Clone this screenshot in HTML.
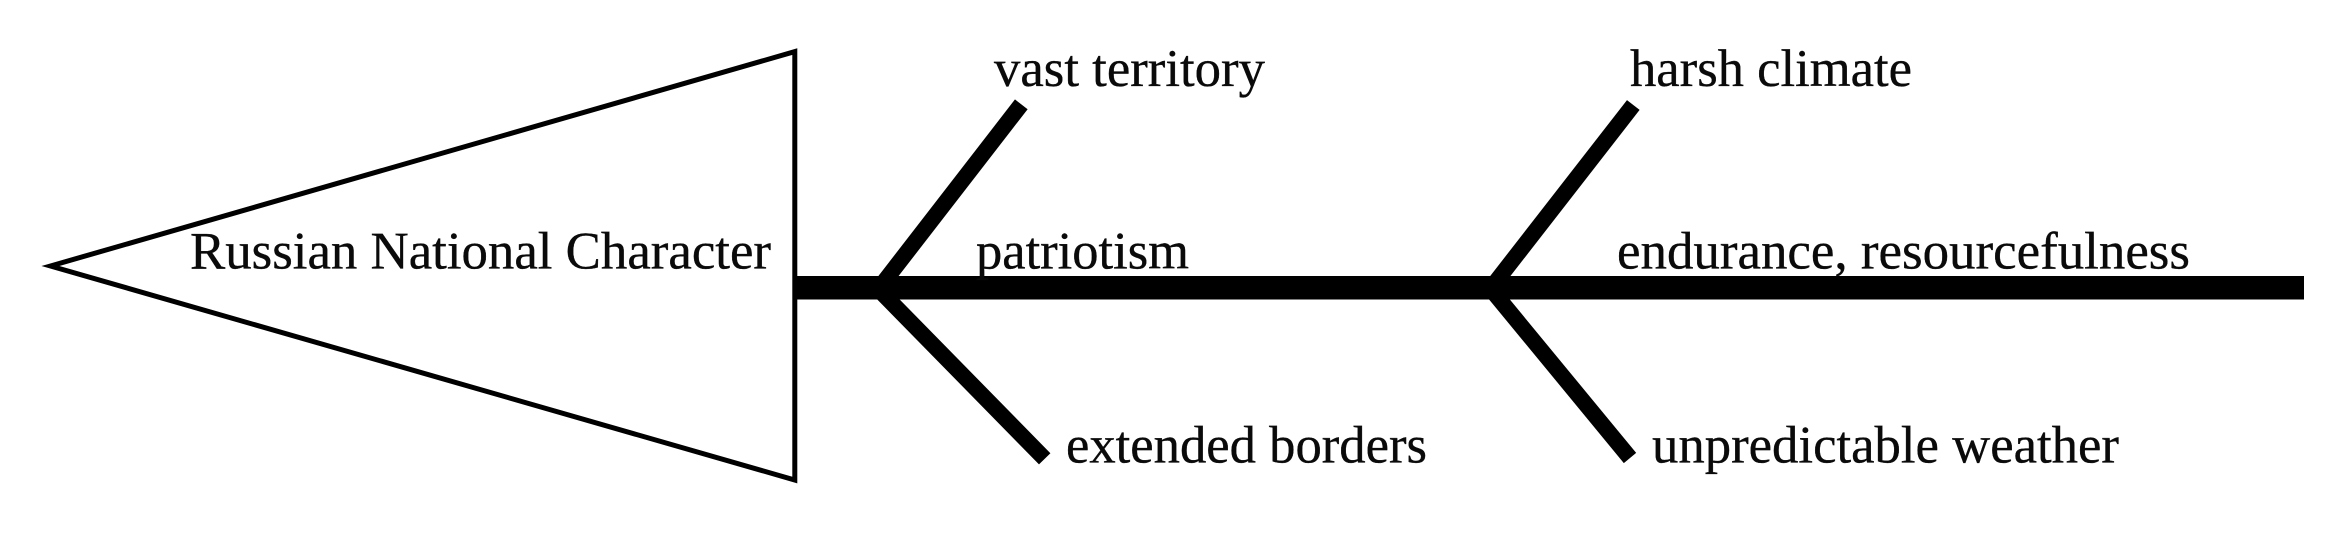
<!DOCTYPE html>
<html lang="en">
<head>
<meta charset="utf-8">
<title>Russian National Character</title>
<style>
html,body{margin:0;padding:0;background:#fff;width:2329px;height:544px;overflow:hidden}
svg{display:block}
text{font-family:"Liberation Serif",serif;font-size:52.5px;fill:#0a0a0a;stroke:#0a0a0a;stroke-width:.35px}
</style>
</head>
<body>
<svg width="2329" height="544" viewBox="0 0 2329 544" xmlns="http://www.w3.org/2000/svg">
<rect width="2329" height="544" fill="#fff"/>
<polygon points="50.5,266 794.8,51.6 794.8,480" fill="#fff" stroke="#000" stroke-width="5" stroke-linejoin="miter"/>
<rect x="795" y="276" width="1509" height="23.5" fill="#000"/>
<g stroke="#000" stroke-width="16" fill="none" stroke-linecap="butt">
<line x1="879.2" y1="288" x2="1021.3" y2="104.3"/>
<line x1="877.2" y1="288" x2="1044.7" y2="458.8"/>
<line x1="1491" y1="288" x2="1633.3" y2="105"/>
<line x1="1490" y1="288" x2="1630" y2="458"/>
</g>
<text x="190" y="268.5" textLength="581" lengthAdjust="spacingAndGlyphs">Russian National Character</text>
<text x="994" y="86" textLength="271" lengthAdjust="spacingAndGlyphs">vast territory</text>
<text x="976" y="268.5" textLength="213" lengthAdjust="spacingAndGlyphs">patriotism</text>
<text x="1066" y="462.5" textLength="361" lengthAdjust="spacingAndGlyphs">extended borders</text>
<text x="1630" y="86" textLength="282" lengthAdjust="spacingAndGlyphs">harsh climate</text>
<text x="1617" y="268.5" textLength="573" lengthAdjust="spacingAndGlyphs">endurance, resourcefulness</text>
<text x="1652" y="462.5" textLength="467" lengthAdjust="spacingAndGlyphs">unpredictable weather</text>
</svg>
</body>
</html>
